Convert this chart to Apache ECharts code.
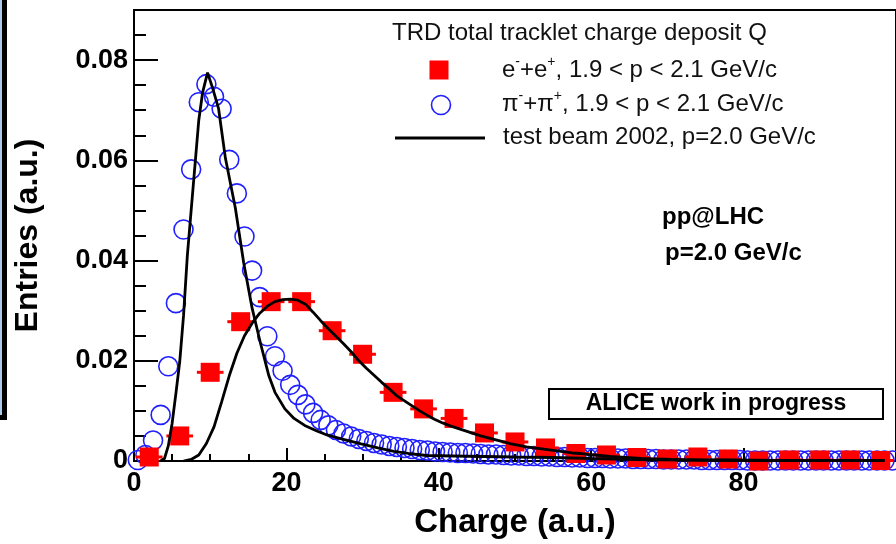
<!DOCTYPE html>
<html>
<head>
<meta charset="utf-8">
<script src="https://cdn.jsdelivr.net/npm/echarts@6/dist/echarts.min.js"></script>
<style>
  html, body { margin: 0; padding: 0; background: #fff; }
  #chart { width: 896px; height: 544px; }
</style>
</head>
<body>
<div id="chart"></div>
<script>
// Electron sample (e- + e+, 1.9 < p < 2.1 GeV/c): 4-unit charge bins
const eCharge = [2, 6, 10, 14, 18, 22, 26, 30, 34, 38, 42, 46, 50, 54, 58, 62, 66, 70, 74, 78, 82, 86, 90, 94, 98];
const eEntries = [0.0008, 0.0050, 0.0177, 0.0278, 0.0318, 0.0318, 0.0260, 0.0213, 0.0137, 0.0104, 0.0085, 0.0056,
  0.0038, 0.0026, 0.0015, 0.0012, 0.0007, 0.0004, 0.0008, 0.0004, 0.0000, 0.0002, 0.0002, 0.0002, 0.0001];
const eHalfWidth = 1.75;

// Pion sample (pi- + pi+, 1.9 < p < 2.1 GeV/c): 1-unit charge bins starting at 0
const piBinWidth = 1;
const piEntries = [
  0.0002, 0.0012, 0.0041, 0.0092, 0.0189, 0.0315, 0.0462, 0.0582, 0.0716, 0.0752,
  0.0727, 0.0703, 0.0601, 0.0534, 0.0448, 0.0380, 0.0327, 0.0249, 0.0209, 0.0180,
  0.0152, 0.0132, 0.0113, 0.0096, 0.0082, 0.0071, 0.0062, 0.0055, 0.0049, 0.0044,
  0.0040, 0.0036, 0.0033, 0.0030, 0.0028, 0.0026, 0.0024, 0.0022, 0.0021, 0.0019,
  0.0018, 0.0017, 0.0016, 0.0016, 0.0015, 0.0014, 0.0013, 0.0013, 0.0012, 0.0011,
  0.0011, 0.0010, 0.0010, 0.0009, 0.0009, 0.0008, 0.0008, 0.0007, 0.0007, 0.0006,
  0.0006, 0.0006, 0.0005, 0.0005, 0.0005, 0.0004, 0.0004, 0.0004, 0.0004, 0.0003,
  0.0003, 0.0003, 0.0003, 0.0003, 0.0002, 0.0002, 0.0002, 0.0002, 0.0002, 0.0002,
  0.0001, 0.0001, 0.0001, 0.0001, 0.0001, 0.0001, 0.0001, 0.0001, 0.0001, 0.0001,
  0.0001, 0.0001, 0.0001, 0.0001, 0.0001, 0.0001, 0.0001, 0.0001, 0.0001, 0.0001
];

// Test beam 2002 reference spectra, p = 2.0 GeV/c
const tbPionX = [3.5, 4, 4.5, 5, 5.5, 6, 6.5, 7, 7.5, 8, 8.5, 9, 9.65, 10.3, 11.1, 12, 13.3, 14.4, 15.5, 16.6,
  17.7, 18.5, 19.8, 21, 22.4, 24, 25.5, 27.5, 29.8, 32, 34.1, 36, 38.4, 42, 46, 50, 55, 60, 66, 72, 80, 90, 98.5];
const tbPionY = [0, 0.0005, 0.003, 0.0075, 0.0135, 0.0198, 0.029, 0.041, 0.050, 0.059, 0.068, 0.0735, 0.0775, 0.0745,
  0.0703, 0.0604, 0.0505, 0.0395, 0.0305, 0.0235, 0.0170, 0.0137, 0.0104, 0.0085, 0.0071, 0.0060, 0.0051, 0.0043,
  0.0034, 0.0026, 0.0019, 0.0015, 0.0011, 0.0010, 0.0009, 0.0008, 0.0007, 0.0005, 0.0003, 0.0002, 0.0001, 0.0001, 0.0001];
const tbElecX = [6.5, 7.5, 8.5, 9.5, 10.5, 11.5, 12.5, 13.5, 14.5, 15.5, 16.5, 17.5, 18.5, 19.5, 20.5, 21.5, 22.5,
  23.5, 24.5, 25.5, 26.5, 27.5, 28.5, 29.5, 30.5, 31.5, 32.5, 33.5, 34.5, 35.5, 36.5, 37.5, 38.5, 39.5, 40.5, 41.5,
  42.5, 43.5, 44.5, 45.5, 46.5, 47.5, 48.5, 49.5, 50.5, 51.5, 52.5, 53.5, 54.5, 55.5, 56.5, 57.5, 58.5, 59.5, 60.5,
  62.5, 64.5, 66.5, 68.5, 70.5, 74.5, 78.5, 84.5, 90.5, 98.5];
const tbElecY = [0, 0.0003, 0.0012, 0.0035, 0.0068, 0.0118, 0.0170, 0.0215, 0.0250, 0.0275,
  0.0295, 0.0309, 0.0318, 0.0322, 0.0323, 0.0321, 0.0313, 0.0297, 0.0280, 0.0264,
  0.0249, 0.0234, 0.0218, 0.0200, 0.0185, 0.0171, 0.0157, 0.0144, 0.0130, 0.0120,
  0.0110, 0.0100, 0.0091, 0.0083, 0.0076, 0.0070, 0.0065, 0.0060, 0.0055, 0.0050,
  0.0046, 0.0042, 0.0038, 0.0034, 0.0031, 0.0028, 0.0026, 0.0024, 0.0022, 0.0020,
  0.0018, 0.0016, 0.0015, 0.0013, 0.0012,
  0.0009, 0.0007, 0.0005, 0.0004, 0.0003, 0.0002, 0.0002, 0.0001, 0.0001, 0.0001];

const FONT = '"Liberation Sans", Arial, Helvetica, sans-serif';
const RED = '#ff0000';
const BLUE = '#1f1fff';

const piData = piEntries.map((v, i) => [(i + 0.5) * piBinWidth, v]);
const eData = eCharge.map((x, i) => [x, eEntries[i]]);
const tbPion = tbPionX.map((x, i) => [x, tbPionY[i]]);
const tbElec = tbElecX.map((x, i) => [x, tbElecY[i]]);

const chart = echarts.init(document.getElementById('chart'), null, { renderer: 'canvas' });

const tickLabel = { fontFamily: FONT, fontSize: 27, fontWeight: 'bold', color: '#000' };

const option = {
  animation: false,
  backgroundColor: '#fff',
  grid: {
    left: 134, right: -8, top: 10, bottom: 78,
    show: true, borderColor: '#000', borderWidth: 2, backgroundColor: 'transparent'
  },
  xAxis: {
    type: 'value', min: 0, max: 100, interval: 20,
    name: 'Charge (a.u.)', nameLocation: 'middle', nameGap: 45,
    nameTextStyle: { fontFamily: FONT, fontSize: 33, fontWeight: 'bold', color: '#000' },
    axisLine: { lineStyle: { color: '#000', width: 2 } },
    axisTick: { inside: true, length: 13, lineStyle: { color: '#000', width: 2 } },
    minorTick: { show: true, splitNumber: 4, length: 7, lineStyle: { color: '#000', width: 2 } },
    splitLine: { show: false },
    axisLabel: Object.assign({ margin: 9, showMaxLabel: false }, tickLabel)
  },
  yAxis: [
    {
      type: 'value', min: 0, max: 0.09, interval: 0.02,
      name: 'Entries (a.u.)', nameLocation: 'middle', nameGap: 90,
      nameTextStyle: { fontFamily: FONT, fontSize: 32, fontWeight: 'bold', color: '#000' },
      axisLine: { show: true, lineStyle: { color: '#000', width: 2 } },
      axisTick: { inside: true, length: 24, lineStyle: { color: '#000', width: 2 } },
      splitLine: { show: false },
      axisLabel: Object.assign({
        margin: 6, showMaxLabel: false,
        formatter: v => (v === 0 ? '0' : v.toFixed(2))
      }, tickLabel)
    },
    {
      // secondary scale carrying the 0.005 minor ticks
      type: 'value', min: 0, max: 0.09, interval: 0.005, position: 'left',
      axisLine: { show: false },
      axisTick: { inside: true, length: 12, lineStyle: { color: '#000', width: 2 } },
      axisLabel: { show: false },
      splitLine: { show: false }
    }
  ],
  series: [
    {
      name: 'pions', type: 'scatter', data: piData, z: 2,
      symbol: 'circle', symbolSize: 19,
      itemStyle: { color: 'rgba(0,0,0,0)', borderColor: BLUE, borderWidth: 1.6, opacity: 1 }
    },
    {
      name: 'electron x-errors', type: 'custom', z: 3,
      data: eData,
      renderItem: function (params, api) {
        const x = api.value(0), y = api.value(1);
        const p0 = api.coord([x - eHalfWidth, y]);
        const p1 = api.coord([x + eHalfWidth, y]);
        return {
          type: 'line',
          shape: { x1: p0[0], y1: p0[1], x2: p1[0], y2: p1[1] },
          style: { stroke: RED, lineWidth: 3 }
        };
      }
    },
    {
      name: 'electrons', type: 'scatter', data: eData, z: 4,
      symbol: 'rect', symbolSize: 19,
      itemStyle: { color: RED, opacity: 1 }
    },
    {
      name: 'test beam pions', type: 'line', data: tbPion, z: 5,
      showSymbol: false, symbol: 'none',
      lineStyle: { color: '#000', width: 2.8 }
    },
    {
      name: 'test beam electrons', type: 'line', data: tbElec, z: 5,
      showSymbol: false, symbol: 'none',
      lineStyle: { color: '#000', width: 2.8 }
    }
  ],
  graphic: [
    // slide frame strip at the left edge
    {
      type: 'rect', z: 0,
      shape: { x: -20, y: -20, width: 24.5, height: 437.5 },
      style: { fill: '#a9cbe9', stroke: '#000', lineWidth: 5 }
    },
    // legend
    {
      type: 'text', z: 10,
      style: { x: 392, y: 33, text: 'TRD total tracklet charge deposit Q', fontFamily: FONT, fontSize: 24,
        fill: '#111', verticalAlign: 'middle' }
    },
    {
      type: 'rect', z: 10,
      shape: { x: 429.5, y: 60.5, width: 19, height: 19 },
      style: { fill: RED }
    },
    {
      type: 'text', z: 10,
      style: {
        x: 502, y: 70, verticalAlign: 'middle',
        text: '{n|e}{s|-}{n|+e}{s|+}{n|, 1.9 < p < 2.1 GeV/c}',
        rich: {
          n: { fontFamily: FONT, fontSize: 24, fill: '#111', lineHeight: 30 },
          s: { fontFamily: FONT, fontSize: 14, fill: '#111', verticalAlign: 'top', lineHeight: 30 }
        }
      }
    },
    {
      type: 'circle', z: 10,
      shape: { cx: 441, cy: 105, r: 9.5 },
      style: { fill: 'none', stroke: BLUE, lineWidth: 1.6 }
    },
    {
      type: 'text', z: 10,
      style: {
        x: 502, y: 104, verticalAlign: 'middle',
        text: '{n|π}{s|-}{n|+π}{s|+}{n|, 1.9 < p < 2.1 GeV/c}',
        rich: {
          n: { fontFamily: FONT, fontSize: 24, fill: '#111', lineHeight: 30 },
          s: { fontFamily: FONT, fontSize: 14, fill: '#111', verticalAlign: 'top', lineHeight: 30 }
        }
      }
    },
    {
      type: 'line', z: 10,
      shape: { x1: 395, y1: 138, x2: 485, y2: 138 },
      style: { stroke: '#000', lineWidth: 3 }
    },
    {
      type: 'text', z: 10,
      style: { x: 503, y: 137, text: 'test beam 2002, p=2.0 GeV/c', fontFamily: FONT, fontSize: 24,
        fill: '#111', verticalAlign: 'middle' }
    },
    // annotations
    {
      type: 'text', z: 10,
      style: { x: 662, y: 217, text: 'pp@LHC', fontFamily: FONT, fontSize: 24, fontWeight: 'bold',
        fill: '#000', verticalAlign: 'middle' }
    },
    {
      type: 'text', z: 10,
      style: { x: 665, y: 253, text: 'p=2.0 GeV/c', fontFamily: FONT, fontSize: 24, fontWeight: 'bold',
        fill: '#000', verticalAlign: 'middle' }
    },
    {
      type: 'rect', z: 10,
      shape: { x: 549, y: 389, width: 334, height: 30 },
      style: { fill: '#fff', stroke: '#000', lineWidth: 2 }
    },
    {
      type: 'text', z: 11,
      style: { x: 716, y: 404, text: 'ALICE work in progress', fontFamily: FONT, fontSize: 23, fontWeight: 'bold',
        fill: '#000', align: 'center', verticalAlign: 'middle' }
    }
  ]
};

chart.setOption(option);
</script>
</body>
</html>
